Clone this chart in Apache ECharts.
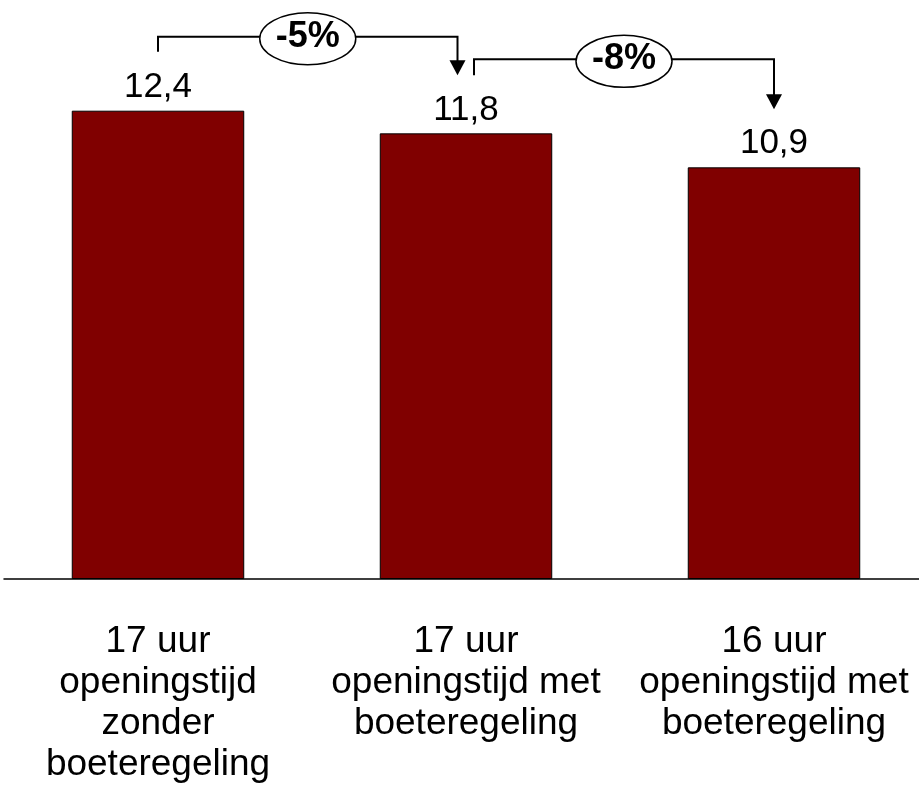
<!DOCTYPE html>
<html>
<head>
<meta charset="utf-8">
<script src="https://cdn.jsdelivr.net/npm/echarts@6/dist/echarts.min.js"></script>
<style>
html,body{margin:0;padding:0;background:#fff;}
#chart{width:919px;height:791px;}
</style>
</head>
<body>
<div id="chart"></div>
<script>
const categories = [
  '17 uur\nopeningstijd\nzonder\nboeteregeling',
  '17 uur\nopeningstijd met\nboeteregeling',
  '16 uur\nopeningstijd met\nboeteregeling'
];
const values = [12.4, 11.8, 10.9];
const changeLabels = ['-5%', '-8%'];

const FONT = '"Liberation Sans", Arial, Helvetica, sans-serif';
const chart = echarts.init(document.getElementById('chart'), null, {renderer: 'canvas'});

chart.setOption({
  animation: false,
  backgroundColor: '#fff',
  grid: {left: 4, width: 924, top: 12.5, height: 566.5, containLabel: false, outerBoundsMode: 'none'},
  xAxis: {
    type: 'category',
    data: categories,
    axisLine: {show: true, lineStyle: {color: '#000', width: 1.5}},
    axisTick: {show: false},
    axisLabel: {
      interval: 0,
      margin: 42,
      fontSize: 37,
      lineHeight: 41,
      color: '#000',
      fontFamily: FONT,
      align: 'center'
    },
    splitLine: {show: false}
  },
  yAxis: {
    type: 'value',
    min: 0,
    max: 15,
    show: false,
    splitLine: {show: false}
  },
  series: [{
    type: 'bar',
    data: values,
    barWidth: '56%',
    itemStyle: {color: '#800000', borderColor: '#000', borderWidth: 1},
    label: {
      show: true,
      position: 'top',
      distance: 6,
      fontSize: 35,
      color: '#000',
      fontFamily: FONT,
      formatter: p => String(p.value).replace('.', ',')
    }
  }]
});

// Annotations (brackets with arrows and change labels) positioned from data
const pts = values.map((v, i) => chart.convertToPixel({gridIndex: 0}, [i, v]));
const graphics = [];
for (let i = 0; i < values.length - 1; i++) {
  const sx = i === 0 ? pts[i][0] : pts[i][0] + 8;
  const sy = i === 0 ? pts[i][1] - 59 : pts[i][1] - 58;
  const ly = pts[i][1] - 74;
  const ex = (i + 1 === values.length - 1) ? pts[i + 1][0] : pts[i + 1][0] - 8.5;
  const tipY = pts[i + 1][1] - 58;
  const ah = 15, aw = 8;
  graphics.push({
    type: 'polyline',
    shape: {points: [[sx, sy], [sx, ly], [ex, ly], [ex, tipY - ah + 1]]},
    style: {stroke: '#000', lineWidth: 2, fill: null}
  });
  graphics.push({
    type: 'polygon',
    shape: {points: [[ex - aw, tipY - ah], [ex + aw, tipY - ah], [ex, tipY]]},
    style: {fill: '#000', stroke: null}
  });
  const cx = (sx + ex) / 2;
  graphics.push({
    type: 'ellipse',
    shape: {cx: cx, cy: ly + 2, rx: 48, ry: 26},
    style: {fill: '#fff', stroke: '#000', lineWidth: 1.5},
    z: 10
  });
  graphics.push({
    type: 'text',
    x: cx, y: ly,
    style: {
      text: changeLabels[i],
      font: 'bold 36px ' + FONT,
      fill: '#000',
      align: 'center',
      verticalAlign: 'middle',
      textAlign: 'center',
      textVerticalAlign: 'middle'
    },
    z: 11
  });
}
chart.setOption({graphic: {elements: graphics}});
</script>
</body>
</html>
